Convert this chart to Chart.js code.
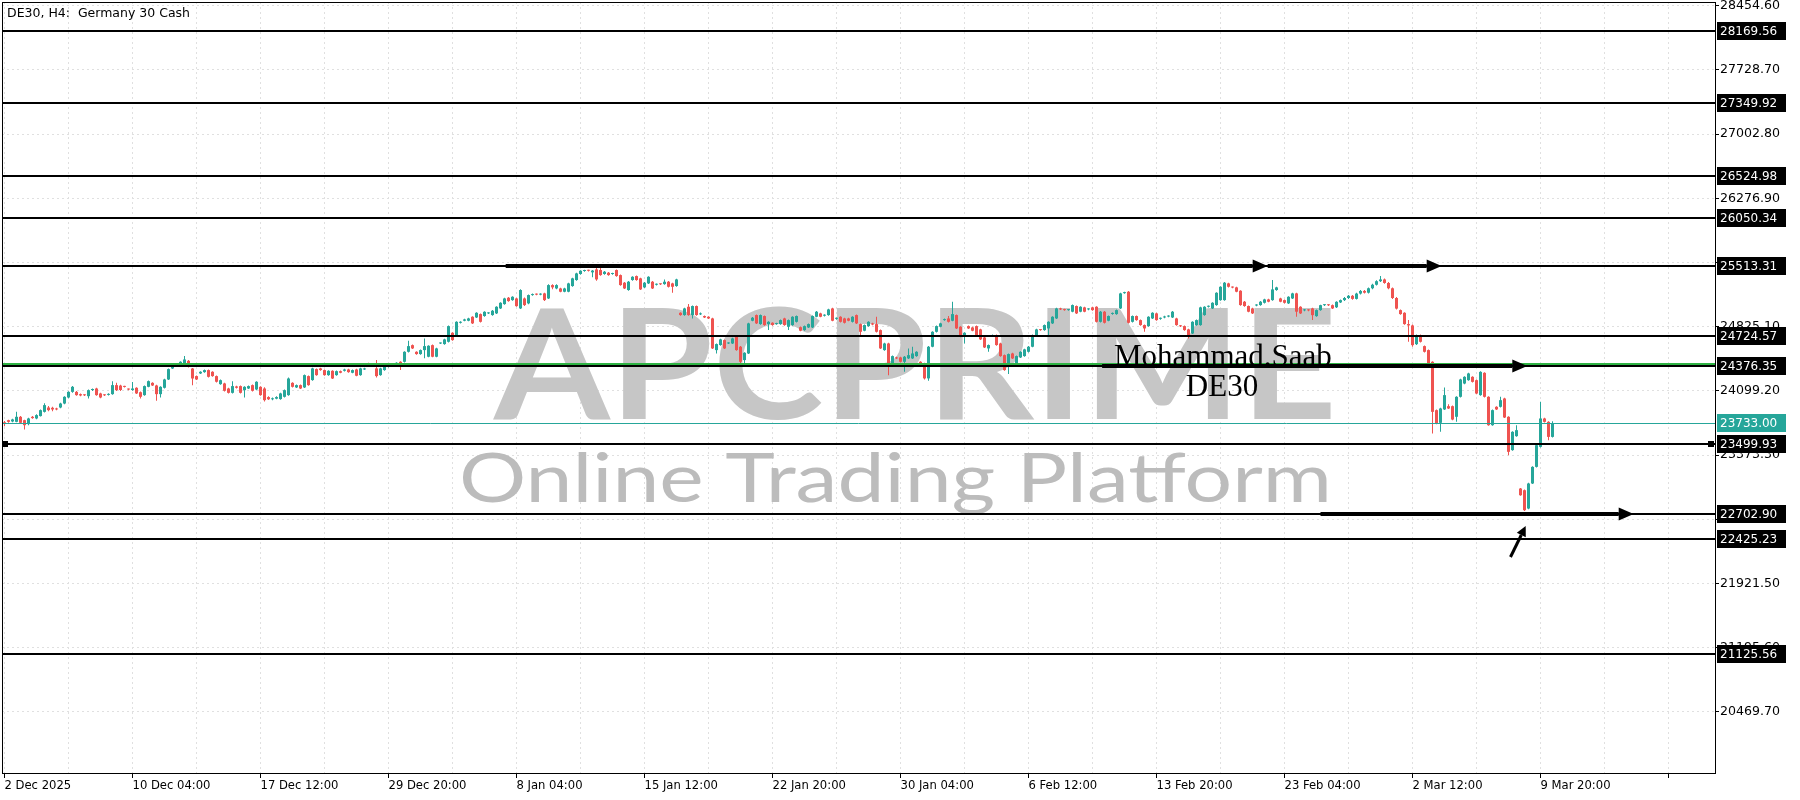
<!DOCTYPE html>
<html>
<head>
<meta charset="utf-8">
<title>DE30, H4</title>
<script src="https://cdn.jsdelivr.net/npm/chart.js@4.4.1/dist/chart.umd.min.js"></script>
<style>
  body { margin: 0; background: #ffffff; }
  canvas { display: block; }
</style>
</head>
<body>
<canvas id="de30Chart" width="1800" height="800"></canvas>
<script>
// DE30 H4 bars, one value per bar (bar 0 = 2 Dec 20:00)
const opens = [
  23745,23769,23754,23750,23807,23769,23724,23807,23788,23815,
  23863,23912,23909,23901,23912,23957,24025,24089,24089,24063,
  24055,24040,24110,24127,24071,24055,24055,24063,24165,24160,
  24150,24120,24110,24135,24085,24052,24146,24191,24161,24063,
  24135,24229,24353,24390,24402,24410,24440,24353,24267,24297,
  24312,24335,24316,24267,24176,24184,24127,24078,24150,24154,
  24108,24127,24165,24116,24146,
  24127,24030,24005,24012,24007,24033,24052,24191,24139,24165,
  24139,24267,24222,24346,24354,24335,24278,24327,24278,24323,
  24327,24342,24305,24342,24278,24342,24410,24399,24354,24278,
  24335,24372,24380,24402,24429,24429,24542,24617,24542,24516,
  24561,24486,24617,24486,24636,24629,24655,24757,24731,24870,
  24893,24893,24938,24930,24968,24946,24976,24957,24976,25032,
  25081,25153,25126,25145,25032,
  25145,25089,25183,25194,25188,25202,25145,25296,25258,25258,
  25221,25221,25285,25353,25421,25455,25462,25440,25473,25466,
  25421,25436,25421,25466,25409,25323,25240,25353,25398,25372,
  25270,25315,25334,25300,25307,25307,25334,25315,25285,24983,
  24957,25051,24957,25059,24965,24946,24938,24919,24561,24618,
  24674,24636,24636,24719,24599,24448,24523,24893,24957,24855,
  24946,24855,24870,24855,24855,
  24919,24825,24844,24881,24820,24787,24817,24817,24938,24976,
  24950,24957,25032,24915,24938,24919,24919,24881,24957,24855,
  24780,24832,24863,24855,24787,24561,24636,24410,24478,24478,
  24429,24467,24467,24493,24429,24410,24241,24599,24768,24825,
  24900,24919,24893,24957,24825,24719,24832,24817,24832,24795,
  24704,24580,24719,24731,24636,24504,24391,24523,24410,24478,
  24493,24542,24599,24731,24790,
  24787,24806,24863,24919,25032,25015,25013,24995,25059,24995,
  25044,25021,25044,25051,24881,24995,24893,24970,24968,25032,
  25205,25221,24881,24946,24900,24844,24832,24919,24976,24915,
  24930,24940,24930,24919,24836,24832,24795,24749,24844,24844,
  24957,25051,25032,25070,25126,25126,25315,25272,25270,25232,
  25108,25059,25032,25065,25070,25096,25134,25126,25240,25145,
  25126,25089,25145,25202,25051,
  25010,25015,25032,24945,25013,25069,25070,25069,25045,25100,
  25126,25150,25175,25140,25200,25230,25210,25260,25300,25340,
  25360,25320,25260,25150,25013,24983,24855,24840,24628,24730,
  24606,24561,24429,23882,23739,23890,23927,23927,23807,24033,
  24183,24221,24259,24221,24052,24304,24033,23712,23920,23920,
  24014,23807,23430,23588,22996,22977,22770,23053,23241,23467,
  23788,23750,23580
];
const highs = [
  23760,23775,23785,23863,23815,23775,23795,23815,23835,23890,
  23960,23930,23920,23910,23965,24040,24095,24155,24100,24070,
  24062,24115,24128,24135,24080,24062,24072,24210,24191,24168,
  24158,24128,24200,24142,24092,24160,24218,24198,24168,24152,
  24236,24352,24398,24398,24436,24493,24448,24360,24275,24322,
  24342,24342,24323,24274,24228,24191,24134,24210,24158,24161,
  24153,24161,24172,24210,24153,
  24140,24040,24025,24038,24078,24115,24250,24198,24172,24172,
  24285,24274,24362,24353,24362,24342,24334,24334,24330,24330,
  24349,24349,24342,24349,24361,24361,24417,24406,24448,24361,
  24398,24398,24409,24425,24436,24549,24666,24624,24549,24568,
  24693,24617,24624,24587,24647,24689,24839,24764,24888,24888,
  24915,24926,24945,24990,24975,25001,24990,25013,25058,25103,
  25152,25160,25171,25152,25250,
  25155,25190,25200,25200,25205,25210,25305,25305,25305,25265,
  25265,25322,25380,25435,25465,25470,25470,25466,25503,25503,
  25454,25443,25435,25473,25416,25330,25341,25397,25405,25379,
  25330,25397,25341,25315,25315,25360,25341,25322,25367,24990,
  25040,25081,25066,25066,24985,24953,24945,24926,24636,24689,
  24681,24651,24700,24726,24606,24538,24870,24934,24964,24964,
  24953,24888,24877,24870,24907,
  24926,24907,24945,24953,24827,24839,24862,24953,25002,24983,
  24965,25028,25039,24930,24945,24926,24926,24945,24964,24862,
  24851,24888,24870,24938,24794,24643,24643,24500,24485,24485,
  24493,24580,24599,24549,24436,24417,24606,24775,24839,24870,
  24917,24946,25108,24964,24832,24764,24839,24824,24839,24802,
  24711,24625,24738,24738,24643,24511,24523,24530,24500,24549,
  24576,24606,24738,24802,24800,
  24851,24888,24945,25039,25040,25028,25025,25077,25066,25058,
  25051,25035,25051,25058,25002,25002,24953,24985,25020,25209,
  25220,25228,24953,24953,24907,24851,24945,24990,24983,24930,
  24948,24955,25002,24926,24845,24839,24802,24888,24907,25051,
  25058,25065,25103,25216,25284,25330,25322,25280,25277,25239,
  25115,25066,25039,25080,25115,25141,25141,25353,25277,25152,
  25133,25171,25209,25209,25058,
  25025,25022,25040,25020,25075,25080,25078,25076,25114,25133,
  25160,25185,25185,25210,25240,25240,25270,25310,25350,25400,
  25370,25330,25270,25160,25020,24990,24900,24850,24737,24737,
  24613,24568,24436,23889,23908,24138,23950,23934,24040,24236,
  24266,24304,24266,24228,24322,24311,24040,23889,23927,24033,
  24021,23814,23644,23712,23003,22984,23060,23248,23493,23976,
  23795,23757,23757
];
const lows = [
  23700,23740,23745,23745,23730,23663,23712,23785,23780,23810,
  23855,23870,23870,23880,23905,23950,24018,24080,24045,24040,
  24042,24014,24100,24045,24018,24042,24048,24055,24100,24100,
  24138,24108,24102,24065,24014,24045,24140,24155,23988,24025,
  24128,24222,24346,24372,24395,24402,24365,24165,24222,24290,
  24305,24252,24260,24196,24168,24094,24071,24071,24128,24071,
  24025,24120,24094,24108,24045,
  23980,23998,23995,24005,24000,24025,24045,24139,24132,24120,
  24132,24158,24215,24271,24328,24271,24271,24233,24271,24298,
  24320,24305,24298,24264,24271,24335,24384,24373,24252,24271,
  24328,24365,24373,24395,24335,24422,24535,24573,24509,24509,
  24470,24479,24479,24479,24629,24622,24648,24667,24724,24863,
  24886,24886,24856,24923,24874,24939,24969,24950,24969,25025,
  25074,25108,25119,25051,25025,
  25060,25080,25175,25180,25180,25115,25140,25250,25250,25214,
  25214,25214,25278,25346,25414,25448,25450,25385,25345,25402,
  25414,25402,25414,25391,25289,25251,25233,25346,25346,25240,
  25263,25308,25251,25292,25296,25300,25270,25209,25278,24950,
  24950,24950,24919,24950,24958,24923,24912,24573,24523,24611,
  24573,24629,24629,24554,24410,24410,24516,24886,24856,24848,
  24837,24787,24837,24848,24848,
  24837,24787,24837,24874,24773,24780,24810,24810,24931,24931,
  24940,24950,24886,24905,24874,24863,24886,24874,24856,24712,
  24773,24825,24843,24761,24573,24554,24278,24403,24460,24422,
  24316,24460,24460,24486,24384,24230,24214,24592,24761,24818,
  24893,24874,24886,24799,24705,24636,24799,24773,24724,24675,
  24584,24542,24712,24611,24486,24328,24290,24460,24403,24471,
  24486,24535,24592,24724,24780,
  24780,24731,24856,24912,25014,25005,25005,24988,24969,24988,
  24988,25012,25006,24874,24874,24863,24886,24962,24961,25025,
  25198,24863,24874,24893,24837,24768,24825,24912,24893,24905,
  24922,24932,24923,24837,24822,24780,24693,24742,24837,24837,
  24950,25044,25025,25063,25119,25119,25270,25260,25214,25063,
  25052,24988,24969,25058,25063,25089,25101,25119,25233,25101,
  25089,25082,25138,24938,24969,
  25000,25000,24900,24938,25006,25060,25060,25025,25038,25093,
  25115,25140,25130,25132,25190,25200,25202,25250,25290,25330,
  25310,25250,25140,25020,24960,24848,24655,24600,24620,24648,
  24535,24403,23618,23724,23637,23883,23894,23769,23750,24026,
  24176,24214,24195,24063,24045,24026,23705,23705,23883,23913,
  23792,23373,23423,23581,22913,22743,22763,23046,23234,23460,
  23743,23543,23573
];
const closes = [
  23725,23750,23777,23807,23739,23712,23788,23792,23826,23882,
  23939,23882,23890,23890,23957,24033,24089,24146,24052,24048,
  24050,24108,24120,24052,24025,24050,24065,24165,24108,24110,
  24145,24115,24127,24071,24033,24154,24210,24161,24063,24146,
  24229,24346,24390,24380,24429,24455,24372,24240,24229,24316,
  24335,24259,24267,24203,24221,24101,24078,24154,24135,24078,
  24146,24154,24101,24203,24052,
  23995,24005,24015,24030,24071,24108,24240,24146,24165,24127,
  24278,24165,24354,24278,24335,24278,24327,24240,24323,24305,
  24342,24312,24335,24271,24354,24354,24391,24380,24267,24354,
  24391,24391,24402,24418,24391,24542,24606,24580,24516,24561,
  24606,24610,24486,24580,24640,24682,24832,24674,24881,24881,
  24908,24919,24863,24983,24881,24994,24983,25006,25051,25096,
  25145,25115,25164,25058,25240,
  25070,25183,25194,25188,25192,25126,25296,25270,25296,25221,
  25258,25315,25372,25428,25458,25462,25458,25460,25360,25409,
  25447,25409,25428,25398,25296,25258,25334,25390,25353,25247,
  25323,25390,25258,25307,25305,25334,25277,25277,25360,24957,
  25032,24957,25059,24957,24976,24930,24919,24580,24629,24682,
  24580,24644,24693,24561,24429,24531,24863,24927,24863,24957,
  24844,24881,24844,24863,24900,
  24844,24900,24938,24946,24780,24832,24855,24946,24995,24938,
  24955,25021,24893,24923,24881,24870,24893,24938,24863,24768,
  24844,24881,24850,24768,24580,24636,24410,24493,24467,24429,
  24486,24504,24523,24542,24391,24241,24599,24768,24832,24863,
  24910,24881,24968,24806,24712,24757,24806,24780,24731,24682,
  24591,24618,24731,24618,24493,24335,24516,24467,24493,24542,
  24569,24599,24731,24795,24787,
  24844,24881,24938,25032,25021,25013,25017,25070,24976,25051,
  24995,25025,25013,24881,24995,24870,24946,24976,25013,25202,
  25209,24870,24946,24900,24844,24806,24938,24983,24900,24923,
  24940,24948,24995,24844,24830,24787,24731,24881,24900,25044,
  25051,25055,25096,25209,25277,25323,25277,25268,25221,25070,
  25059,24995,24976,25072,25108,25134,25108,25247,25270,25108,
  25096,25164,25202,24995,24976,
  25015,25010,24956,25013,25069,25072,25068,25032,25107,25126,
  25150,25175,25140,25200,25230,25210,25260,25300,25340,25360,
  25320,25260,25150,25030,24968,24855,24840,24617,24730,24655,
  24542,24410,23863,23731,23901,24052,23901,23776,24033,24229,
  24259,24297,24202,24070,24315,24033,23712,23882,23890,23995,
  23799,23411,23637,23656,22920,22751,23053,23241,23486,23788,
  23750,23580,23733
];

// time axis labels, one every 32 bars
const tickLabels = ['2 Dec 2025', '10 Dec 04:00', '17 Dec 12:00', '29 Dec 20:00', '8 Jan 04:00',
  '15 Jan 12:00', '22 Jan 20:00', '30 Jan 04:00', '6 Feb 12:00', '13 Feb 20:00',
  '23 Feb 04:00', '2 Mar 12:00', '9 Mar 20:00'];
const barsPerLabel = 32;

// price scale labels
const priceTicks = [28454.60, 27728.70, 27002.80, 26276.90, 25551.00, 24825.10,
  24099.20, 23373.30, 22647.40, 21921.50, 21195.60, 20469.70];

// horizontal line objects and the last bid
const levels = [28169.56, 27349.92, 26524.98, 26050.34, 25513.31, 24724.57,
  24376.35, 23499.93, 22702.90, 22425.23, 21125.56];
const greenLevel = 24405;
const lastPrice = 23733.00;

// arrows drawn on the chart (bar index / price)
const arrowFromBar = [125.3, 315.8, 274.4, 329.0, 376.5];
const arrowToBar = [315.8, 359.3, 380.7, 407.3, 380.3];
const arrowFromPrice = [25513.31, 25513.31, 24376.35, 22702.90, 22222];
const arrowToPrice = [25513.31, 25513.31, 24376.35, 22702.90, 22572];

const upColor = '#26a69a';
const downColor = '#ef5350';

const candleColors = closes.map((c, i) => (c >= opens[i] ? upColor : downColor));
const wickData = opens.map((o, i) => ({ x: i, y: [lows[i], highs[i]] }));
const bodyData = opens.map((o, i) => ({ x: i, y: [o, closes[i]] }));

function drawArrow(ctx, x1, y1, x2, y2, lw, headLen, headHalf) {
  const ang = Math.atan2(y2 - y1, x2 - x1);
  const bx = x2 - headLen * Math.cos(ang);
  const by = y2 - headLen * Math.sin(ang);
  ctx.lineWidth = lw;
  ctx.beginPath();
  ctx.moveTo(x1, y1);
  ctx.lineTo(bx, by);
  ctx.stroke();
  ctx.beginPath();
  ctx.moveTo(x2, y2);
  ctx.lineTo(bx + headHalf * Math.sin(ang), by - headHalf * Math.cos(ang));
  ctx.lineTo(bx - headHalf * Math.sin(ang), by + headHalf * Math.cos(ang));
  ctx.closePath();
  ctx.fill();
}

function fitText(ctx, text, x, y, width) {
  const w = ctx.measureText(text).width;
  ctx.save();
  ctx.translate(x, y);
  ctx.scale(width / w, 1);
  ctx.fillText(text, 0, 0);
  ctx.restore();
}

const mtOverlay = {
  id: 'mtOverlay',
  beforeDatasetsDraw(chart) {
    // broker watermark sits under the candles
    const ctx = chart.ctx;
    ctx.save();
    ctx.textBaseline = 'alphabetic';
    ctx.fillStyle = '#c6c6c6';
    ctx.font = 'bold 154px Lato';
    fitText(ctx, 'APCPRIME', 494, 419, 843);
    ctx.fillStyle = '#bcbcbc';
    ctx.font = '68px Lato';
    fitText(ctx, 'Online Trading Platform', 459, 502, 873);
    ctx.restore();
  },
  afterDatasetsDraw(chart) {
    const { ctx, chartArea: a, scales: { x, y } } = chart;
    ctx.save();
    ctx.beginPath();
    ctx.rect(a.left, a.top, a.right - a.left, a.bottom - a.top);
    ctx.clip();

    // last price line
    const py = Math.round(y.getPixelForValue(lastPrice)) + 0.5;
    ctx.strokeStyle = upColor;
    ctx.lineWidth = 1;
    ctx.beginPath();
    ctx.moveTo(a.left, py);
    ctx.lineTo(a.right, py);
    ctx.stroke();

    // green line just above 24376
    const gy = Math.round(y.getPixelForValue(greenLevel));
    ctx.strokeStyle = '#2fb344';
    ctx.lineWidth = 2;
    ctx.beginPath();
    ctx.moveTo(a.left, gy);
    ctx.lineTo(a.right, gy);
    ctx.stroke();

    // horizontal levels
    ctx.strokeStyle = '#000';
    levels.forEach((lv) => {
      const ly = Math.round(y.getPixelForValue(lv));
      ctx.beginPath();
      ctx.moveTo(a.left, ly);
      ctx.lineTo(a.right, ly);
      ctx.stroke();
    });

    // end squares on 23499.93
    const sy = Math.round(y.getPixelForValue(23499.93));
    ctx.fillStyle = '#000';
    ctx.fillRect(a.left, sy - 3, 6, 6);
    ctx.fillRect(a.right - 7, sy - 3, 6, 6);

    // arrows
    ctx.strokeStyle = '#000';
    ctx.fillStyle = '#000';
    arrowFromBar.forEach((b, i) => {
      const x1 = x.getPixelForValue(b);
      const x2 = x.getPixelForValue(arrowToBar[i]);
      const y1 = Math.round(y.getPixelForValue(arrowFromPrice[i]));
      const y2 = Math.round(y.getPixelForValue(arrowToPrice[i]));
      if (i < 4) drawArrow(ctx, x1, y1, x2, y2, 4, 15, 6.5);
      else drawArrow(ctx, x1, y1, x2, y2, 3, 10, 5);
    });

    // author note
    ctx.fillStyle = '#000';
    ctx.font = '31px "Liberation Serif"';
    ctx.textBaseline = 'alphabetic';
    ctx.textAlign = 'left';
    ctx.fillText('Mohammad.Saab', 1114, 366);
    ctx.textAlign = 'center';
    ctx.fillText('DE30', 1222, 396);
    ctx.restore();
  },
  afterDraw(chart) {
    const { ctx, chartArea: a, scales: { y } } = chart;
    ctx.save();
    // chart frame
    ctx.strokeStyle = '#000';
    ctx.lineWidth = 1;
    ctx.strokeRect(a.left + 0.5, a.top + 0.5, a.right - a.left, a.bottom - a.top);

    // price boxes on the scale
    ctx.font = '12px "DejaVu Sans"';
    ctx.textBaseline = 'middle';
    ctx.textAlign = 'left';
    const box = (v, bg) => {
      const by = Math.round(y.getPixelForValue(v));
      ctx.fillStyle = bg;
      ctx.fillRect(a.right + 2, by - 9, 69, 18);
      ctx.fillStyle = '#fff';
      ctx.fillText(v.toFixed(2), a.right + 5, by + 1);
    };
    levels.forEach((lv) => box(lv, '#000'));
    box(lastPrice, upColor);

    // title
    ctx.fillStyle = '#000';
    ctx.textBaseline = 'alphabetic';
    ctx.font = '12.5px "DejaVu Sans"';
    ctx.fillText('DE30, H4:  Germany 30 Cash', 7, 17);
    ctx.restore();
  }
};

Chart.defaults.font.family = '"DejaVu Sans"';
Chart.defaults.font.size = 12;
Chart.defaults.color = '#000';

const ctx = document.getElementById('de30Chart').getContext('2d');
const de30Chart = new Chart(ctx, {
  type: 'bar',
  data: {
    datasets: [
      {
        label: 'wick',
        data: wickData,
        backgroundColor: candleColors,
        barThickness: 1,
        maxBarThickness: 1,
        grouped: false,
        borderWidth: 0,
        inflateAmount: 0,
        minBarLength: 1,
        order: 2
      },
      {
        label: 'body',
        data: bodyData,
        backgroundColor: candleColors,
        barThickness: 3,
        maxBarThickness: 3,
        grouped: false,
        borderWidth: 0,
        inflateAmount: 0,
        minBarLength: 1,
        order: 1
      }
    ]
  },
  options: {
    responsive: false,
    animation: false,
    devicePixelRatio: 1,
    layout: { padding: { left: 2, top: 2, right: 0, bottom: 0 } },
    plugins: {
      legend: { display: false },
      tooltip: { enabled: false }
    },
    scales: {
      x: {
        type: 'linear',
        offset: false,
        min: -0.625,
        max: 427.625,
        afterBuildTicks: (scale) => {
          const t = [];
          for (let v = 0; v <= 416; v += barsPerLabel / 2) t.push({ value: v });
          scale.ticks = t;
        },
        afterFit: (scale) => {
          scale.height = 27;
          scale.paddingLeft = 0;
          scale.paddingRight = 0;
        },
        ticks: {
          autoSkip: false,
          maxRotation: 0,
          minRotation: 0,
          align: 'start',
          padding: 1,
          font: { size: 11.6 },
          callback: (v) => (v % barsPerLabel === 0 ? (tickLabels[v / barsPerLabel] || '') : '')
        },
        grid: {
          offset: false,
          color: '#e0e0e0',
          lineWidth: 1,
          tickLength: 5,
          tickColor: (c) => (c.tick && c.tick.value % barsPerLabel === 0 ? '#000' : 'rgba(0,0,0,0)'),
          tickBorderDash: []
        },
        border: { display: true, color: '#000', width: 1, dash: [2, 3] }
      },
      y: {
        position: 'right',
        min: 19780,
        max: 28496.4,
        afterBuildTicks: (scale) => {
          scale.ticks = priceTicks.map((v) => ({ value: v }));
        },
        afterFit: (scale) => {
          scale.width = 85;
          scale.paddingTop = 0;
          scale.paddingBottom = 0;
        },
        ticks: {
          autoSkip: false,
          padding: 1,
          font: { size: 12.6 },
          callback: (v) => Number(v).toFixed(2)
        },
        grid: {
          color: '#e0e0e0',
          lineWidth: 1,
          tickLength: 4,
          tickColor: '#000',
          tickBorderDash: []
        },
        border: { display: true, color: '#000', width: 1, dash: [2, 3] }
      }
    }
  },
  plugins: [mtOverlay]
});
</script>
</body>
</html>
